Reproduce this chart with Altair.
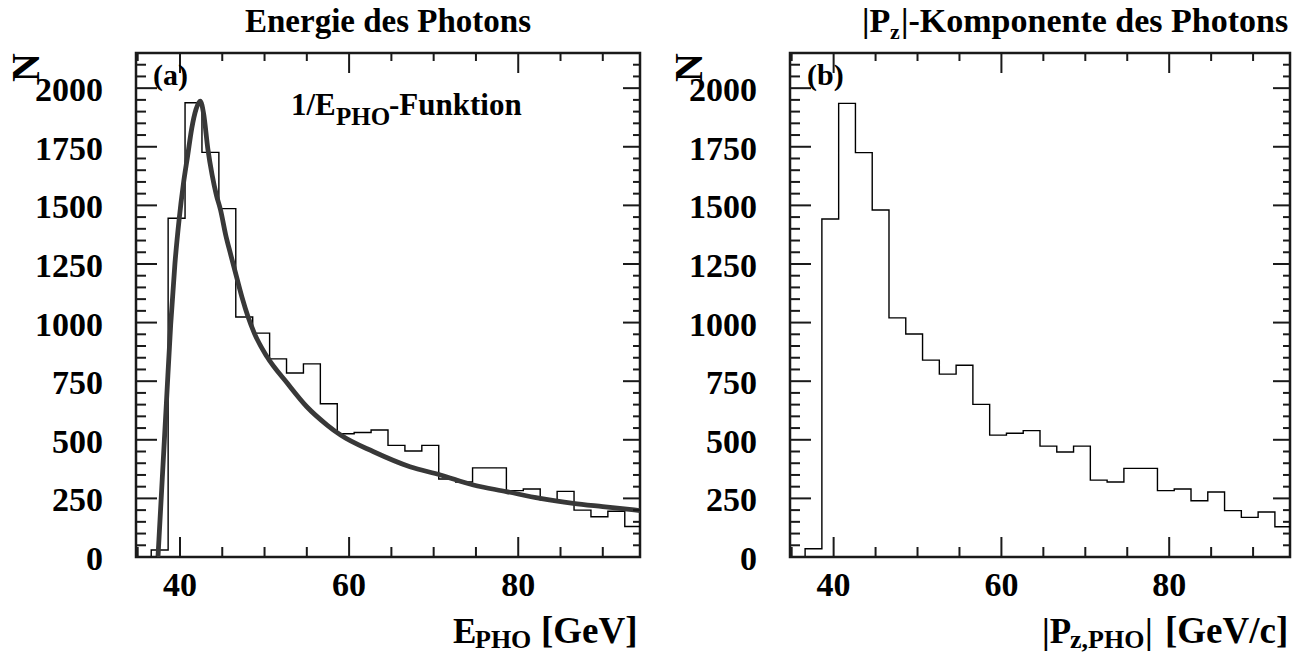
import altair as alt
import pandas as pd

# ---------------- data ----------------
bin_left = [36.6, 38.6, 40.6, 42.6, 44.6, 46.6, 48.6, 50.6, 52.6, 54.6,
            56.6, 58.6, 60.6, 62.6, 64.6, 66.6, 68.6, 70.6, 72.6, 74.6,
            76.6, 78.6, 80.6, 82.6, 84.6, 86.6, 88.6, 90.6, 92.6]
bin_width = 2.0
counts_e = [30, 1445, 1938, 1726, 1486, 1024, 955, 845, 785, 824,
            654, 526, 531, 542, 476, 452, 476, 333, 320, 380,
            380, 283, 290, 244, 280, 200, 172, 195, 130]
counts_pz = [35, 1442, 1935, 1725, 1480, 1020, 951, 840, 780, 818,
             651, 520, 528, 539, 473, 448, 473, 328, 320, 378,
             378, 283, 290, 240, 277, 198, 169, 192, 129]

fit_x = [37.4, 37.9, 38.4, 38.9, 39.4, 39.9, 40.4, 40.9, 41.4, 41.9,
         42.4, 42.8, 43.3, 43.8, 44.3, 44.8, 45.4, 46.0, 46.8, 47.4,
         48.0, 48.8, 50.3, 52.7, 55.0, 57.4, 59.0, 62.9, 67.2, 70.8,
         74.7, 78.6, 82.6, 86.5, 90.0, 94.4]
fit_y = [0, 330, 660, 990, 1250, 1440, 1590, 1710, 1830, 1910,
         1945, 1890, 1740, 1630, 1545, 1480, 1375, 1290, 1180, 1100,
         1030, 954, 854, 741, 641, 563, 520, 449, 385, 350,
         307, 279, 250, 229, 215, 198]

x_major = [40, 60, 80]
x_minor = [35, 45, 50, 55, 65, 70, 75, 85, 90]
y_major = [0, 250, 500, 750, 1000, 1250, 1500, 1750, 2000]
y_minor = [v for v in range(50, 2101, 50) if v % 250 != 0]

XDOM = [34.8, 94.4]
YDOM = [0, 2150]
FONT = "Liberation Serif"
INK = "#1a1a1a"
H = 504


def step_frame(counts):
    edges = bin_left + [bin_left[-1] + bin_width]
    xs = [edges[0]] + edges
    ys = [0] + counts + [counts[-1]]
    return pd.DataFrame({"x": xs, "y": ys})


def txt(s, x, y, size, align="left", baseline="alphabetic", angle=0):
    return alt.Chart(pd.DataFrame({"k": [0]})).mark_text(
        text=s, font=FONT, fontWeight="bold", fontSize=size, align=align,
        baseline=baseline, angle=angle, color="black"
    ).encode(x=alt.value(x), y=alt.value(y))


def panel(width, counts, with_fit, texts):
    xs = alt.Scale(domain=XDOM, nice=False, zero=False)
    ys = alt.Scale(domain=YDOM, nice=False, zero=False)
    hist = alt.Chart(step_frame(counts)).mark_line(
        interpolate="step-after", color="black", strokeWidth=1.4, clip=True
    ).encode(
        x=alt.X("x:Q", scale=xs, axis=None),
        y=alt.Y("y:Q", scale=ys, axis=None),
    )
    layers = [hist]
    if with_fit:
        fit = alt.Chart(pd.DataFrame({"x": fit_x, "y": fit_y})).mark_line(
            interpolate="monotone", color="#383838", strokeWidth=4.8, clip=True
        ).encode(x=alt.X("x:Q", scale=xs, axis=None), y=alt.Y("y:Q", scale=ys, axis=None))
        layers.append(fit)

    def yt(vals, a, b):
        return alt.Chart(pd.DataFrame({"v": vals})).mark_rule(color=INK, strokeWidth=2).encode(
            y=alt.Y("v:Q", scale=ys, axis=None), x=alt.value(a), x2=alt.value(b))

    def xt(vals, a, b):
        return alt.Chart(pd.DataFrame({"v": vals})).mark_rule(color=INK, strokeWidth=2).encode(
            x=alt.X("v:Q", scale=xs, axis=None), y=alt.value(a), y2=alt.value(b))

    ylabels = alt.Chart(pd.DataFrame({"v": y_major})).mark_text(
        font=FONT, fontWeight="bold", fontSize=34, align="right",
        baseline="alphabetic", dy=13, color="black"
    ).encode(y=alt.Y("v:Q", scale=ys, axis=None), x=alt.value(-33),
             text=alt.Text("v:Q", format="d"))
    xlabels = alt.Chart(pd.DataFrame({"v": x_major})).mark_text(
        font=FONT, fontWeight="bold", fontSize=34, align="center",
        baseline="alphabetic", color="black"
    ).encode(x=alt.X("v:Q", scale=xs, axis=None), y=alt.value(H + 39),
             text=alt.Text("v:Q", format="d"))

    layers += [
        yt(y_major, 0, 21), yt(y_minor, 0, 10),
        yt(y_major, width, width - 17), yt(y_minor, width, width - 7),
        xt(x_major, H, H - 20), xt(x_minor, H, H - 10),
        xt(x_major, 0, 20), xt(x_minor, 0, 8),
        ylabels, xlabels,
    ]
    layers += texts
    return alt.layer(*layers).properties(width=width, height=H)


left_texts = [
    txt("Energie des Photons", 252, -21, 33, align="center"),
    txt("N", -97, 0, 40, align="right", angle=270),
    txt("(a)", 17, 32, 30),
    txt("1/E", 155, 62, 31),
    txt("PHO", 200, 72, 25),
    txt("-Funktion", 253, 62, 31),
    txt("E", 317, 590, 35),
    txt("PHO", 339, 595, 26),
    txt("[GeV]", 405, 590, 37),
]
right_texts = [
    txt("|P", 72, -21, 34),
    txt("z", 100, -14, 22),
    txt("|-Komponente des Photons", 111, -21, 34),
    txt("N", -88, 0, 40, align="right", angle=270),
    txt("(b)", 17, 32, 30),
    txt("|P", 252, 590, 35),
    txt("z,PHO", 280, 595, 26),
    txt("|", 355, 590, 35),
    txt("[GeV/c]", 375, 590, 37),
]

left = panel(504, counts_e, True, left_texts)
right = panel(500, counts_pz, False, right_texts)

chart = alt.hconcat(left, right, spacing=25).properties(
    padding={"left": 5, "top": 3, "right": 0, "bottom": 0},
    background="white",
).configure_view(stroke=INK, strokeWidth=2.5)

chart.save("out.html", embed_options={"renderer": "svg", "actions": False})
